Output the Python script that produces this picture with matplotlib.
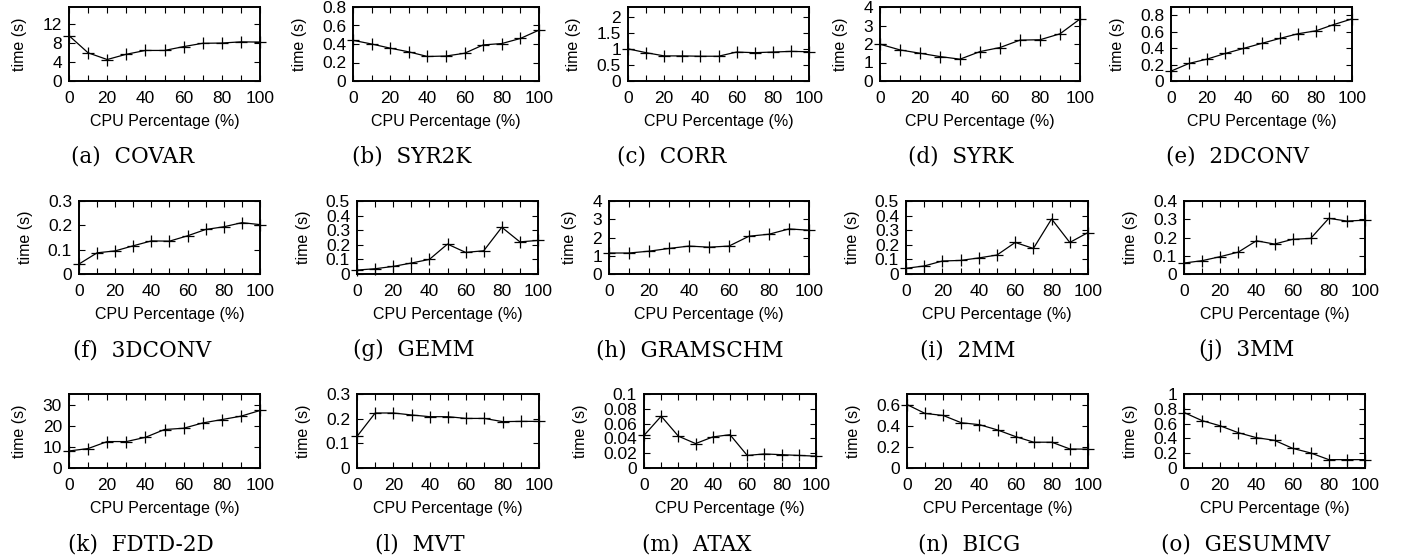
import matplotlib
matplotlib.use("Agg")
import matplotlib.pyplot as plt
from matplotlib.ticker import MultipleLocator, FuncFormatter

# ---- data (time in seconds vs CPU share) -----------------------------------
cpu_pct = [0, 10, 20, 30, 40, 50, 60, 70, 80, 90, 100]

covar    = [9.5, 5.9, 4.5, 5.6, 6.4, 6.4, 7.2, 7.9, 7.95, 8.2, 8.15]
syr2k    = [0.44, 0.40, 0.355, 0.315, 0.265, 0.27, 0.30, 0.39, 0.405, 0.46, 0.55]
corr     = [1.0, 0.88, 0.78, 0.78, 0.77, 0.77, 0.90, 0.88, 0.90, 0.92, 0.91]
syrk     = [1.99, 1.68, 1.50, 1.32, 1.18, 1.59, 1.81, 2.21, 2.23, 2.55, 3.35]
conv2d   = [0.12, 0.214, 0.267, 0.335, 0.396, 0.457, 0.517, 0.574, 0.61, 0.687, 0.755]
conv3d   = [0.041, 0.087, 0.095, 0.116, 0.136, 0.135, 0.157, 0.183, 0.194, 0.211, 0.203]
gemm     = [0.027, 0.036, 0.052, 0.075, 0.10, 0.205, 0.148, 0.159, 0.32, 0.22, 0.23]
gramschm = [1.15, 1.15, 1.25, 1.40, 1.53, 1.47, 1.53, 2.07, 2.18, 2.47, 2.40]
mm2      = [0.039, 0.055, 0.089, 0.093, 0.11, 0.13, 0.216, 0.175, 0.377, 0.216, 0.284]
mm3      = [0.06, 0.073, 0.095, 0.12, 0.182, 0.164, 0.19, 0.195, 0.305, 0.29, 0.295]
fdtd2d   = [8.05, 9.2, 12.5, 12.5, 14.5, 18.2, 18.8, 21.3, 22.9, 24.5, 27.2]
mvt      = [0.128, 0.223, 0.223, 0.215, 0.208, 0.208, 0.201, 0.201, 0.188, 0.189, 0.189]
atax     = [0.044, 0.070, 0.043, 0.033, 0.042, 0.045, 0.017, 0.019, 0.018, 0.017, 0.016]
bicg     = [0.60, 0.516, 0.497, 0.428, 0.41, 0.36, 0.297, 0.244, 0.244, 0.18, 0.178]
gesummv  = [0.75, 0.64, 0.57, 0.477, 0.41, 0.374, 0.266, 0.203, 0.113, 0.113, 0.113]

names  = ["COVAR", "SYR2K", "CORR", "SYRK", "2DCONV",
          "3DCONV", "GEMM", "GRAMSCHM", "2MM", "3MM",
          "FDTD-2D", "MVT", "ATAX", "BICG", "GESUMMV"]
series = [covar, syr2k, corr, syrk, conv2d,
          conv3d, gemm, gramschm, mm2, mm3,
          fdtd2d, mvt, atax, bicg, gesummv]
y_top  = [15.5, 0.8, 2.3, 4, 0.9,
          0.3, 0.5, 4, 0.5, 0.4,
          35, 0.3, 0.1, 0.7, 1.0]
y_step = [4, 0.2, 0.5, 1, 0.2,
          0.1, 0.1, 1, 0.1, 0.1,
          10, 0.1, 0.02, 0.2, 0.2]

# ---- layout (pixels in the 1411x560 canvas) --------------------------------
W, H = 1411, 560
rows_px = [(7, 81), (201, 274), (394, 468)]
cols_px = [(69, 260), (353, 539), (628, 809), (880, 1080), (1171, 1352),
           (79, 260), (357, 538), (609, 809), (906, 1088), (1184, 1365),
           (69, 260), (357, 539), (644, 816), (907, 1088), (1184, 1365)]
cap_x = [133, 412, 672, 961, 1237,
         142, 414, 690, 968, 1247,
         141, 420, 697, 969, 1246]
cap_y = [157, 350, 545]

plt.rcParams["font.family"] = ["Liberation Sans", "DejaVu Sans"]
plt.rcParams["font.size"] = 11

fig = plt.figure(figsize=(W / 100, H / 100), dpi=100)

for i, (name, ys) in enumerate(zip(names, series)):
    top, bot = rows_px[i // 5]
    l, r = cols_px[i]
    ax = fig.add_axes([l / W, 1 - bot / H, (r - l) / W, (bot - top) / H])
    ax.plot(cpu_pct, ys, "-", color="black", lw=0.9, marker="+", ms=8,
            mew=0.9, clip_on=False, zorder=3)
    ax.set_xlim(0, 100)
    ax.set_ylim(0, y_top[i])
    ax.xaxis.set_major_locator(MultipleLocator(20))
    ax.xaxis.set_minor_locator(MultipleLocator(10))
    ax.yaxis.set_major_locator(MultipleLocator(y_step[i]))
    ax.yaxis.set_major_formatter(FuncFormatter(lambda v, p: f"{round(v, 6):g}"))
    ax.tick_params(which="both", direction="in", top=True, right=True,
                   length=4, width=0.8, labelsize=12.5)
    ax.tick_params(axis="x", which="both", pad=7)
    ax.tick_params(axis="y", which="both", pad=5)
    for sp in ax.spines.values():
        sp.set_linewidth(1.4)
    ax.set_xlabel("CPU Percentage (%)", fontsize=11.5, labelpad=6)
    ax.set_ylabel("time (s)", fontsize=11.5, labelpad=11)
    fig.text(cap_x[i] / W, 1 - cap_y[i // 5] / H,
             f"({chr(ord('a') + i)})  {name}",
             ha="center", va="center", fontsize=15.5, family="DejaVu Serif")

fig.savefig("out.png", dpi=100)
